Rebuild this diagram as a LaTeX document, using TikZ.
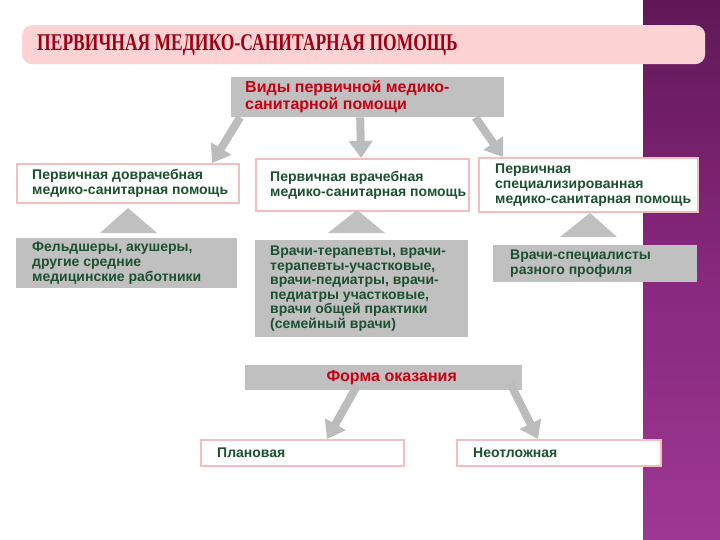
\documentclass[tikz,border=0pt]{standalone}
\usepackage{fontspec}
\setmainfont{Liberation Serif}
\newfontfamily\arialb{Liberation Sans}[BoldFont={Liberation Sans Bold}]
\usetikzlibrary{arrows.meta}
\definecolor{boxgray}{RGB}{192,192,192}
\definecolor{arrgray}{RGB}{188,188,188}
\definecolor{pinkline}{RGB}{245,190,190}
\definecolor{banner}{RGB}{252,210,210}
\definecolor{titlered}{RGB}{160,0,20}
\definecolor{redtext}{RGB}{200,0,20}
\definecolor{greentext}{RGB}{28,80,48}
\definecolor{purpletop}{RGB}{58,8,48}
\definecolor{purplemid}{RGB}{135,40,125}
\definecolor{purplebot}{RGB}{180,72,168}
\pgfdeclareverticalshading{purpleband}{100bp}{color(0bp)=(purplebot); color(50bp)=(purplemid); color(100bp)=(purpletop)}
\tikzset{
  pinkbox/.style={draw=pinkline, line width=2.2pt, fill=white, inner sep=0pt, anchor=north west},
  graybox/.style={fill=boxgray, inner sep=0pt, anchor=north west},
  gtext/.style={text=greentext, font=\arialb\bfseries\fontsize{14}{14.6}\selectfont, align=left, anchor=west, inner sep=0pt},
  rtext/.style={text=redtext, font=\arialb\bfseries\fontsize{16}{17}\selectfont, align=left, inner sep=0pt},
  bigarrow/.style={draw=arrgray, line width=8pt, -{Triangle[width=23pt,length=17pt]}},
  uptri/.style={fill=boxgray},
}
\begin{document}
\begin{tikzpicture}[x=1pt,y=-1pt]
\useasboundingbox (0,0) rectangle (720,540);
\fill[white] (0,0) rectangle (720,540);
\shade[shading=purpleband] (643,0) rectangle (720,540);
% title banner
\node[fill=banner, rounded corners=10pt, minimum width=683pt, minimum height=39pt, anchor=north west, inner sep=0pt] (title) at (22,25) {};
\node[anchor=west, inner sep=0pt, text=titlered, font=\bfseries\fontsize{24}{28}\selectfont] (titletext) at ([xshift=15]title.west) {\scalebox{0.73}[1]{ПЕРВИЧНАЯ МЕДИКО-САНИТАРНАЯ ПОМОЩЬ}};
% top box
\node[graybox, minimum width=273pt, minimum height=40pt] (V) at (231,77) {};
\node[rtext, anchor=west] (Vt) at ([xshift=14]V.west) {Виды первичной медико-\\санитарной помощи};
% row 1
\node[pinkbox, minimum width=222pt, minimum height=39pt] (A) at (16,163) {};
\node[gtext] (At) at ([xshift=16]A.west) {Первичная доврачебная\\медико-санитарная помощь};
\node[pinkbox, minimum width=213pt, minimum height=52pt] (B) at (255,158) {};
\node[gtext] (Bt) at ([xshift=15]B.west) {Первичная врачебная\\медико-санитарная помощь};
\node[pinkbox, minimum width=219pt, minimum height=54pt] (C) at (478,157) {};
\node[gtext] (Ct) at ([xshift=17]C.west) {Первичная\\специализированная\\медико-санитарная помощь};
% row 2
\node[graybox, minimum width=221pt, minimum height=50pt] (D) at (16,238) {};
\node[gtext] (Dt) at ([xshift=16]D.west) {Фельдшеры, акушеры,\\другие средние\\медицинские работники};
\node[graybox, minimum width=213pt, minimum height=97pt] (E) at (255,240) {};
\node[gtext] (Et) at ([xshift=15]E.west) {Врачи-терапевты, врачи-\\терапевты-участковые,\\врачи-педиатры, врачи-\\педиатры участковые,\\врачи общей практики\\(семейный врачи)};
\node[graybox, minimum width=204pt, minimum height=37pt] (F) at (493,245) {};
\node[gtext] (Ft) at ([xshift=17]F.west) {Врачи-специалисты\\разного профиля};
% triangles
\fill[uptri] (128,208) -- (157,233) -- (100,233) -- cycle;
\fill[uptri] (357,210) -- (385,233) -- (328,233) -- cycle;
\fill[uptri] (590,213) -- (617,237) -- (560,237) -- cycle;
% form box
\node[graybox, minimum width=277pt, minimum height=25pt] (G) at (245,365) {};
\node[rtext, anchor=center] (Gt) at ([xshift=8]G.center) {Форма оказания};
\node[pinkbox, minimum width=203pt, minimum height=26pt] (H) at (200,439) {};
\node[gtext] (Ht) at ([xshift=17]H.west) {Плановая};
\node[pinkbox, minimum width=204pt, minimum height=26pt] (I) at (456,439) {};
\node[gtext] (It) at ([xshift=17]I.west) {Неотложная};
% arrows
\draw[bigarrow] ([xshift=9]V.south west) -- ([xshift=-28]A.north east);
\draw[bigarrow] ([xshift=-7.5]V.south) -- ([xshift=-1.5]B.north);
\draw[bigarrow] ([xshift=-29]V.south east) -- ([xshift=25]C.north west);
\draw[bigarrow] ([xshift=-26.5,yshift=5]G.south) -- ([xshift=127]H.north west);
\draw[bigarrow] ([xshift=126.5,yshift=7]G.south) -- ([xshift=82]I.north west);
\end{tikzpicture}
\end{document}
